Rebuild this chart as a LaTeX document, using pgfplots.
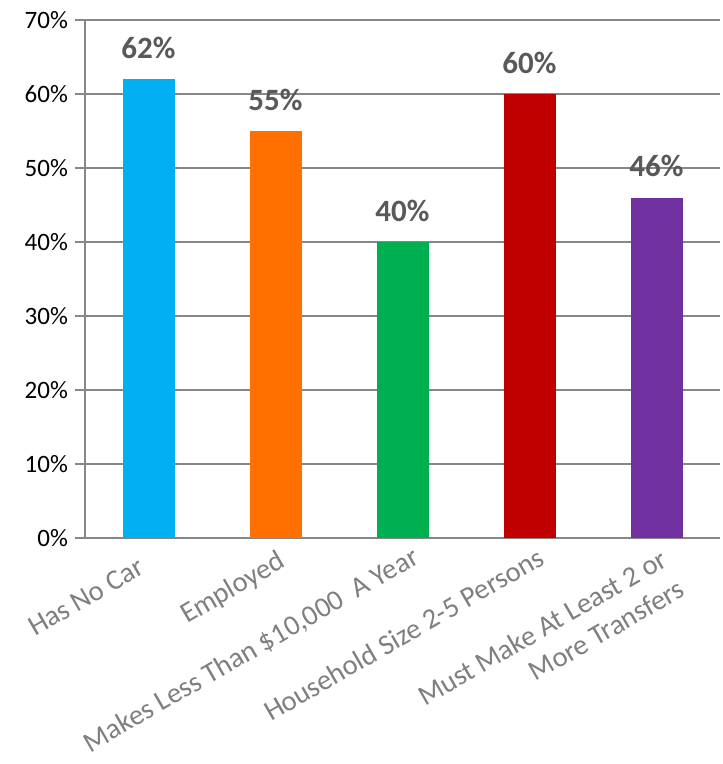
\documentclass[border=0pt]{standalone}
\usepackage{pgfplots}
\pgfplotsset{compat=1.18}
\usepackage{fontspec}
\setmainfont{Carlito}
\definecolor{gridgray}{HTML}{878787}
\definecolor{lblgray}{HTML}{7F7F7F}
\definecolor{valgray}{HTML}{595959}
\definecolor{c1}{HTML}{00B0F0}
\definecolor{c2}{HTML}{FF7000}
\definecolor{c3}{HTML}{00B050}
\definecolor{c4}{HTML}{C00000}
\definecolor{c5}{HTML}{7030A0}
\begin{document}
\begin{tikzpicture}
\begin{axis}[
  name=ax,
  scale only axis,
  clip=false,
  width=317.5pt, height=259pt,
  xmin=-0.5, xmax=4.5,
  ymin=0, ymax=70,
  ytick={0,10,...,70},
  yticklabel={\pgfmathprintnumber{\tick}\%},
  /pgf/number format/assume math mode=true,
  yticklabel style={font=\fontsize{12.5pt}{14pt}\selectfont, color=black},
  xtick={0,1,2,3,4},
  xticklabels={},
  axis x line*=bottom,
  axis y line*=left,
  axis line style={gridgray, line width=1pt, -},
  ymajorgrids,
  grid style={gridgray, line width=1pt},
  tick style={gridgray, line width=1pt},
  ytick pos=left,
  tick align=outside,
  major tick length=5pt,
  xtick style={draw=none},
  ybar,
  bar width=26pt,
  bar shift=0pt,
  nodes near coords={\pgfmathprintnumber{\pgfplotspointmeta}\%},
  nodes near coords style={font=\fontsize{15.5pt}{17pt}\selectfont\bfseries, color=valgray, anchor=south, inner sep=0pt, yshift=10pt},
  /pgf/number format/.cd, fixed, precision=0,
]
\addplot[fill=c1, draw=none] coordinates {(0,62)};
\addplot[fill=c2, draw=none] coordinates {(1,55)};
\addplot[fill=c3, draw=none] coordinates {(2,40)};
\addplot[fill=c4, draw=none] coordinates {(3,60)};
\addplot[fill=c5, draw=none] coordinates {(4,46)};
\tikzset{catlbl/.style={font=\fontsize{14.3pt}{17pt}\selectfont, text=lblgray, rotate=30, anchor=north east, align=right, inner sep=1pt, yshift=-4pt}}
\node[catlbl, xshift=-8.5pt] at (axis cs:0,0) {Has No Car};
\node[catlbl, xshift=-1pt] at (axis cs:1,0) {Employed};
\node[catlbl, xshift=3pt] at (axis cs:2,0) {Makes Less Than \$10,000\ \ A Year};
\node[catlbl, xshift=2pt] at (axis cs:3,0) {Household Size 2-5 Persons};
\node[catlbl, xshift=0pt] at (axis cs:4,0) {Must Make At Least 2 or\\More Transfers};
\end{axis}
\pgfresetboundingbox
\path (ax.south west) ++(-42.5pt,-113pt) rectangle ++(361pt,382pt);
\end{tikzpicture}
\end{document}
